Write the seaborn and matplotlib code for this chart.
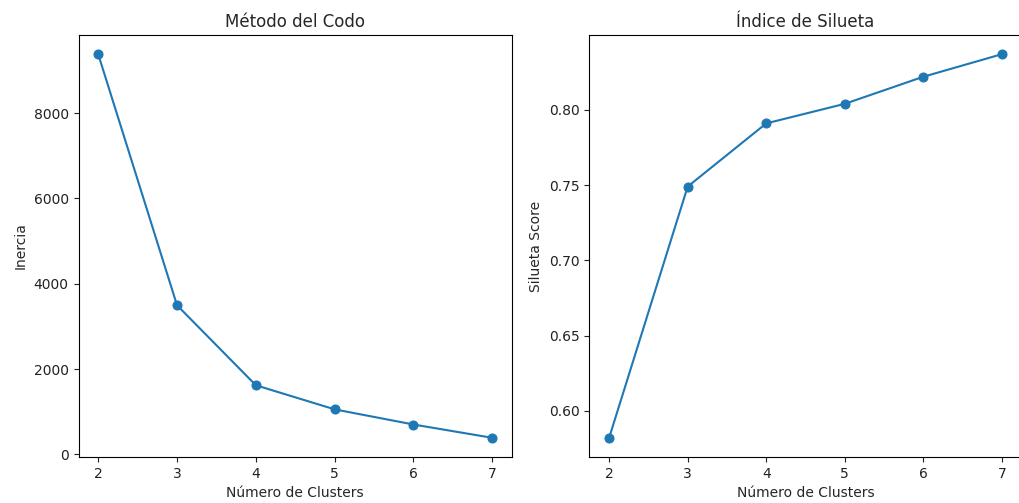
import matplotlib
matplotlib.use("Agg")
import matplotlib.pyplot as plt
import seaborn as sns
import pandas as pd

clusters = [2, 3, 4, 5, 6, 7]
inercia = [9380, 3495, 1620, 1055, 700, 388]
silueta = [0.582, 0.749, 0.791, 0.804, 0.822, 0.837]

sns.set_style("white")
plt.rcParams['font.family'] = ['DejaVu Sans']

W, H = 1020, 503
fig = plt.figure(figsize=(W / 100, H / 100), dpi=100)
top, bottom = 35, 457
ax1 = fig.add_axes([78.5 / W, 1 - bottom / H, (512 - 78.5) / W, (bottom - top) / H])
ax2 = fig.add_axes([589.5 / W, 1 - bottom / H, 432 / W, (bottom - top) / H])

df = pd.DataFrame({"k": clusters, "inercia": inercia, "silueta": silueta})

for ax, col, title, ylabel in [(ax1, "inercia", "Método del Codo", "Inercia"),
                               (ax2, "silueta", "Índice de Silueta", "Silueta Score")]:
    sns.lineplot(data=df, x="k", y=col, marker="o", markersize=6.5, color="#1f77b4",
                 markeredgecolor="#1f77b4", linewidth=1.5, ax=ax)
    ax.set_title(title, fontsize=12)
    ax.set_xlabel("Número de Clusters", fontsize=10)
    ax.set_ylabel(ylabel, fontsize=10)
    ax.tick_params(axis="both", which="both", direction="out", length=3.5, width=0.8,
                   labelsize=10, left=True, bottom=True, colors="#222222", labelcolor="#222222")
    for sp in ax.spines.values():
        sp.set_visible(True)
        sp.set_color("black")
        sp.set_linewidth(0.8)

fig.savefig("out.png", dpi=100)
